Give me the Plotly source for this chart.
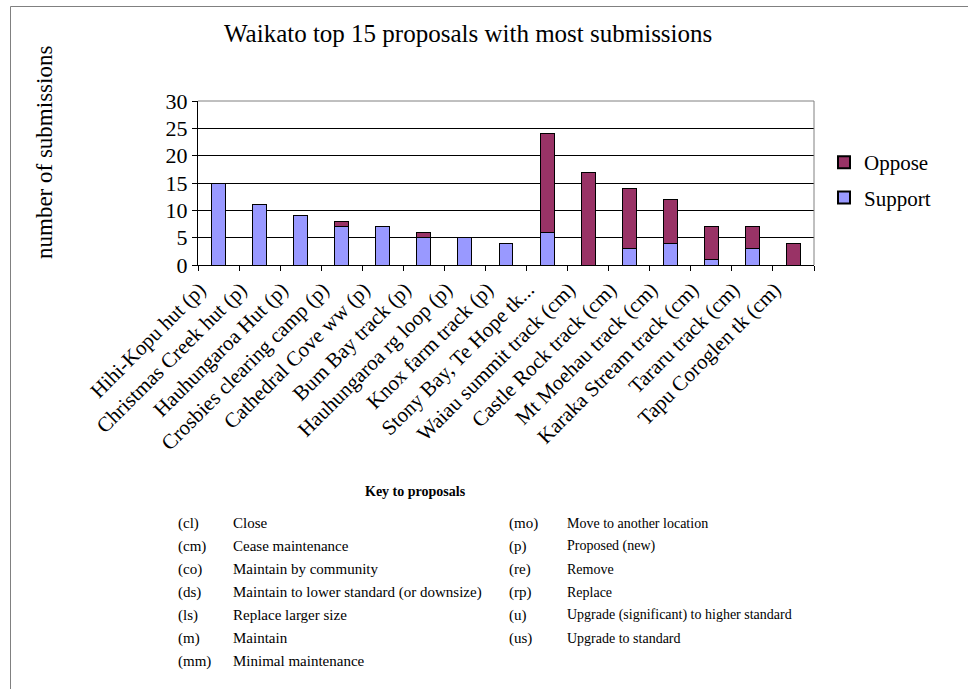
import plotly.graph_objects as go

categories = ["Hihi-Kopu hut (p)", "Christmas Creek hut (p)", "Hauhungaroa Hut (p)",
              "Crosbies clearing camp (p)", "Cathedral Cove ww (p)", "Bum Bay track (p)",
              "Hauhungaroa rg loop (p)", "Knox farm track (p)", "Stony Bay, Te Hope tk...",
              "Waiau summit track (cm)", "Castle Rock track (cm)", "Mt Moehau track (cm)",
              "Karaka Stream track (cm)", "Tararu track (cm)", "Tapu Coroglen tk (cm)"]
support = [15, 11, 9, 7, 7, 5, 5, 4, 6, 0, 3, 4, 1, 3, 0]
oppose = [0, 0, 0, 1, 0, 1, 0, 0, 18, 17, 11, 8, 6, 4, 4]
y_ticks = [0, 5, 10, 15, 20, 25, 30]

key_left_codes = ["(cl)", "(cm)", "(co)", "(ds)", "(ls)", "(m)", "(mm)"]
key_left_text = ["Close", "Cease maintenance", "Maintain by community",
                 "Maintain to lower standard (or downsize)", "Replace larger size",
                 "Maintain", "Minimal maintenance"]
key_right_codes = ["(mo)", "(p)", "(re)", "(rp)", "(u)", "(us)"]
key_right_text = ["Move to another location", "Proposed (new)", "Remove", "Replace",
                  "Upgrade (significant) to higher standard", "Upgrade to standard"]

W, H = 968, 689
L, R, T, B = 198, 814, 101, 265
FONT = "Liberation Serif"

def px(x):
    return (x - L) / (R - L)

def py(y):
    return (B - y) / (B - T)

fig = go.Figure()
fig.add_trace(go.Bar(x=categories, y=support, name="Support", legendgroup="s", legendrank=2,
                     marker=dict(color="#9999FF", line=dict(color="#000000", width=1))))
fig.add_trace(go.Bar(x=categories, y=oppose, name="Oppose", legendgroup="o", legendrank=1,
                     marker=dict(color="#993366", line=dict(color="#000000", width=1))))

annotations = [
    dict(text="Waikato top 15 proposals with most submissions", x=px(468), y=py(33),
         xref="paper", yref="paper", showarrow=False, font=dict(size=25, family=FONT, color="black"),
         xanchor="center", yanchor="middle"),
    dict(text="number of submissions", x=px(44), y=py(153), textangle=-90,
         xref="paper", yref="paper", showarrow=False, font=dict(size=23, family=FONT, color="black"),
         xanchor="center", yanchor="middle"),
    dict(text="<b>Key to proposals</b>", x=px(415), y=py(491),
         xref="paper", yref="paper", showarrow=False, font=dict(size=14, family=FONT, color="black"),
         xanchor="center", yanchor="middle"),
]
row0, dy = 523, 23
for i, (c, t) in enumerate(zip(key_left_codes, key_left_text)):
    yy = py(row0 + i * dy)
    annotations.append(dict(text=c, x=px(176), y=yy, xref="paper", yref="paper", showarrow=False,
                            font=dict(size=15, family=FONT, color="black"), xanchor="left", yanchor="middle"))
    annotations.append(dict(text=t, x=px(231), y=yy, xref="paper", yref="paper", showarrow=False,
                            font=dict(size=15, family=FONT, color="black"), xanchor="left", yanchor="middle"))
for i, (c, t) in enumerate(zip(key_right_codes, key_right_text)):
    yy = py(row0 + i * dy)
    annotations.append(dict(text=c, x=px(507), y=yy, xref="paper", yref="paper", showarrow=False,
                            font=dict(size=15, family=FONT, color="black"), xanchor="left", yanchor="middle"))
    annotations.append(dict(text=t, x=px(565), y=yy, xref="paper", yref="paper", showarrow=False,
                            font=dict(size=14, family=FONT, color="black"), xanchor="left", yanchor="middle"))

shapes = [
    dict(type="rect", xref="paper", yref="paper", x0=px(10.5), y0=py(720), x1=px(1000), y1=py(6.5),
         line=dict(color="#808080", width=1), fillcolor="rgba(0,0,0,0)", layer="below"),
    dict(type="line", xref="paper", yref="paper", x0=0, x1=1, y0=1, y1=1,
         line=dict(color="#808080", width=1)),
    dict(type="line", xref="paper", yref="paper", x0=1, x1=1, y0=0, y1=1,
         line=dict(color="#808080", width=1)),
]

fig.update_layout(
    width=W, height=H,
    margin=dict(l=L, r=W - R, t=T, b=H - B, pad=0),
    barmode="stack", bargap=0.66,
    paper_bgcolor="white", plot_bgcolor="white",
    font=dict(family=FONT, color="black"),
    showlegend=True,
    legend=dict(x=px(824), y=py(142), xanchor="left", yanchor="top", traceorder="grouped",
                font=dict(size=21, family=FONT, color="black"), bgcolor="rgba(0,0,0,0)",
                itemsizing="constant", tracegroupgap=5),
    annotations=annotations,
    shapes=shapes,
)
fig.update_xaxes(tickangle=-45, tickfont=dict(size=21, family=FONT, color="black"),
                 showline=True, linecolor="#000000", linewidth=1,
                 ticks="outside", ticklen=5, tickcolor="#000000", tickson="boundaries",
                 ticklabelshift=-19, ticklabelstandoff=3,
                 showgrid=False, automargin=False)
fig.update_yaxes(range=[0, 30], tickvals=y_ticks, tickfont=dict(size=22, family=FONT, color="black"),
                 showline=True, linecolor="#000000", linewidth=1,
                 ticks="outside", ticklen=5, tickcolor="#000000",
                 showgrid=True, gridcolor="#000000", gridwidth=1, zeroline=False, automargin=False)

fig.write_html("out.html")
